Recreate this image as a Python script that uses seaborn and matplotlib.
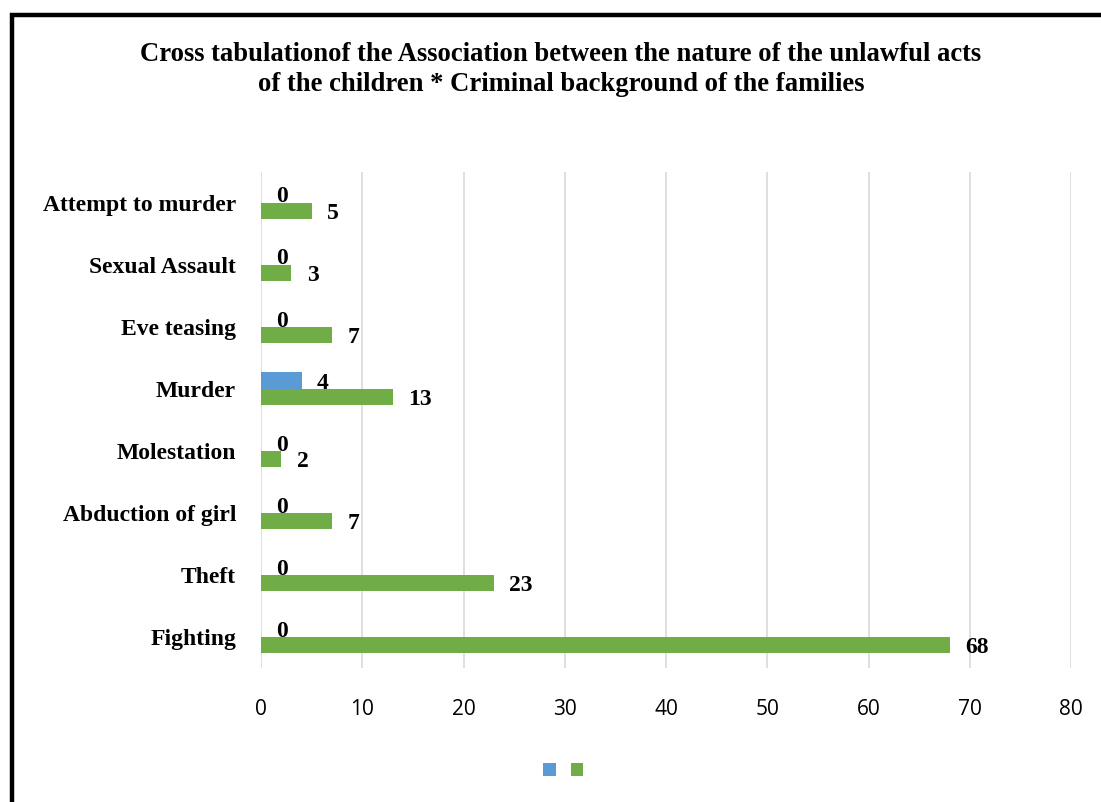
import matplotlib
matplotlib.use("Agg")
import matplotlib.pyplot as plt
from matplotlib.patches import Rectangle, Patch
import seaborn as sns
import pandas as pd

# Nature of the unlawful acts (top to bottom as drawn)
acts = ["Attempt to murder", "Sexual Assault", "Eve teasing", "Murder",
        "Molestation", "Abduction of girl", "Theft", "Fighting"]
# Criminal background of the families
with_background = [0, 0, 0, 4, 0, 0, 0, 0]
without_background = [5, 3, 7, 13, 2, 7, 23, 68]
groups = ["Yes", "No"]
x_ticks = [0, 10, 20, 30, 40, 50, 60, 70, 80]

title_lines = ["Cross tabulationof the Association between the nature of the unlawful acts",
               "of the children * Criminal background of the families"]

BLUE = "#5B9BD5"
GREEN = "#70AD47"
GRID = "#D9D9D9"
SERIF = "Liberation Serif"
SANS = "Open Sans"

df = pd.DataFrame({
    "act": acts * 2,
    "count": with_background + without_background,
    "group": [groups[0]] * len(acts) + [groups[1]] * len(acts),
})

sns.set_theme(style="white")
fig = plt.figure(figsize=(11.01, 8.02), dpi=100)
ax = fig.add_axes([0.2371, 0.167, 0.7357, 0.619])

sns.barplot(data=df, y="act", x="count", hue="group", hue_order=groups,
            order=acts, palette=[BLUE, GREEN], orient="h", width=0.53,
            saturation=1, errorbar=None, legend=False, linewidth=0, ax=ax)

for cont in ax.containers:
    texts = ax.bar_label(cont, labels=[f"{v:g}" for v in cont.datavalues], padding=11,
                         fontsize=17, fontweight="bold", family=SERIF, color="black")
    for t in texts:
        t.set_verticalalignment("center_baseline")

ax.set_xlim(0, 80)
ax.set_xticks(x_ticks)
ax.set_xticklabels([str(t) for t in x_ticks], family=SANS, fontsize=15, color="black")
ax.tick_params(axis="x", length=0, pad=22)
ax.tick_params(axis="y", length=0, pad=18)
for lab in ax.get_yticklabels():
    lab.set_family(SERIF)
    lab.set_fontweight("bold")
    lab.set_fontsize(17)
    lab.set_color("black")
ax.set_xlabel("")
ax.set_ylabel("")
ax.grid(axis="x", color=GRID, linewidth=1.2)
ax.grid(axis="y", visible=False)
ax.set_axisbelow(True)
for s in ax.spines.values():
    s.set_visible(False)

for line, yc in zip(title_lines, [0.9352, 0.8978]):
    fig.text(0.5095, yc, line, ha="center", va="center_baseline", family=SERIF,
             fontweight="bold", fontsize=19.2, color="black")

handles = [Patch(facecolor=BLUE, edgecolor="none"), Patch(facecolor=GREEN, edgecolor="none")]
fig.legend(handles, ["", ""], loc="center", bbox_to_anchor=(0.5118, 0.0393),
           ncol=2, frameon=False, fontsize=15, handlelength=0.6, handleheight=0.6,
           handletextpad=0, columnspacing=0.72, borderpad=0)

# Chart frame (extends past the right and bottom edges)
fig.add_artist(Rectangle((11.5 / 1101, -0.1), 1.2, 1.1 - 15 / 802,
                         transform=fig.transFigure, fill=False,
                         edgecolor="black", linewidth=3.2, clip_on=False))

fig.savefig("out.png", dpi=100)
